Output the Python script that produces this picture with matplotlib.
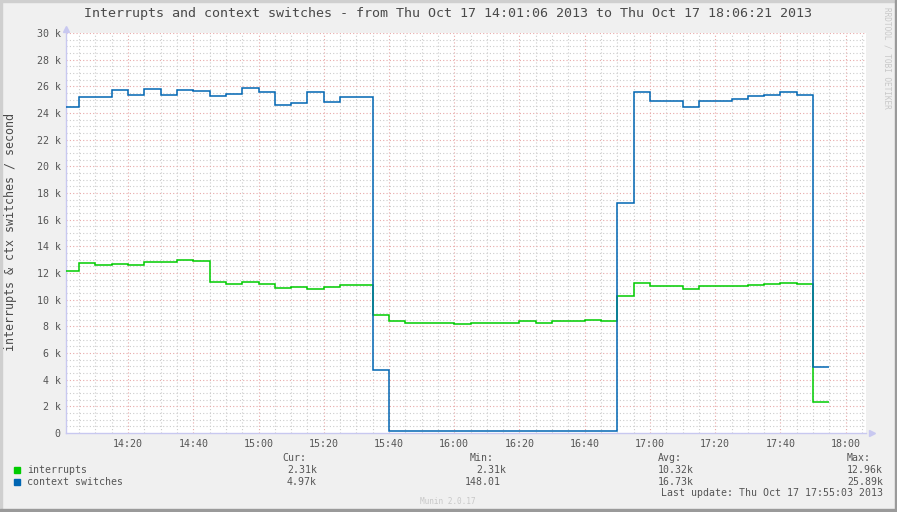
import numpy as np
import matplotlib
matplotlib.use("Agg")
import matplotlib.pyplot as plt
from matplotlib.patches import Rectangle

# minutes after 14:00; first sample starts 14:01:06, then 5-minute steps up to 17:55
start_min = 1.1
end_min = 246.35  # 18:06:21
edges = np.concatenate([[start_min], np.arange(5, 240, 5)])

interrupts = [12.13,
              12.73, 12.58, 12.65, 12.58, 12.80, 12.80, 12.96, 12.88, 11.30,
              11.15, 11.30, 11.15, 10.85, 10.93, 10.78, 10.93, 11.08, 11.08,
              8.83,
              8.38, 8.27, 8.27, 8.27, 8.15, 8.27, 8.27, 8.27, 8.38, 8.27,
              8.38, 8.38, 8.45, 8.38,
              10.25,
              11.23, 11.03, 11.03, 10.78, 11.03, 11.03, 11.03, 11.10, 11.18,
              11.23, 11.18,
              2.31]

ctx_switches = [24.43,
                25.18, 25.18, 25.70, 25.33, 25.80, 25.33, 25.70, 25.63, 25.25,
                25.40, 25.89, 25.55, 24.58, 24.73, 25.55, 24.80, 25.18, 25.18,
                4.73,
                0.148, 0.148, 0.148, 0.148, 0.148, 0.148, 0.148, 0.148, 0.148,
                0.148, 0.148, 0.148, 0.148, 0.148,
                17.23,
                25.55, 24.92, 24.88, 24.43, 24.88, 24.92, 25.03, 25.25, 25.33,
                25.55, 25.35,
                4.97]

tick_min = np.arange(20, 241, 20)
tick_labels = ["14:20", "14:40", "15:00", "15:20", "15:40", "16:00",
               "16:20", "16:40", "17:00", "17:20", "17:40", "18:00"]
y_ticks = np.arange(0, 31, 2)
y_labels = ["0"] + ["%d k" % v for v in y_ticks[1:]]

legend_names = ["interrupts", "context switches"]
cur = ["2.31k", "4.97k"]
mins = ["2.31k", "148.01"]
avgs = ["10.32k", "16.73k"]
maxs = ["12.96k", "25.89k"]

green = "#00CC00"
blue = "#0066B3"
txt = "#555555"
mono = "DejaVu Sans Mono"

W, H = 897, 512


def fx(x):
    return x / W


def fy(y):
    return 1 - y / H


fig = plt.figure(figsize=(W / 100, H / 100), dpi=100)
fig.patch.set_facecolor("#f0f0f0")

left, right, top, bottom = 66.4, 866.4, 33, 433
ax = fig.add_axes([fx(left), fy(bottom), (right - left) / W, (bottom - top) / H])
ax.set_facecolor("white")
ax.set_xlim(start_min, end_min)
ax.set_ylim(0, 30)

# grid: minor grey, major light red
for m in np.arange(5, 246, 5):
    col = "#e8a8a8" if m % 20 == 0 else "#cccccc"
    ax.axvline(m, color=col, lw=0.8, ls=(0, (1, 2)), zorder=1)
for v in np.arange(0.5, 30.1, 0.5):
    col = "#e8a8a8" if v % 2 == 0 else "#cccccc"
    ax.axhline(v, color=col, lw=0.8, ls=(0, (1, 2)), zorder=1)

ax.stairs(interrupts, edges, color=green, lw=1.1, baseline=None, zorder=3)
ax.stairs(ctx_switches, edges, color=blue, lw=1.1, baseline=None, zorder=4)

ax.set_xticks(tick_min)
ax.set_xticklabels(tick_labels, family=mono, fontsize=7.2, color=txt)
ax.set_yticks(y_ticks)
ax.set_yticklabels(y_labels, family=mono, fontsize=7.2, color=txt)
ax.tick_params(length=0, pad=4)

for s in ["top", "right"]:
    ax.spines[s].set_visible(False)
for s in ["left", "bottom"]:
    ax.spines[s].set_color("#c8c8f0")
    ax.spines[s].set_linewidth(1.0)

# axis arrows
ax.plot([start_min], [30.3], marker="^", ms=4, color="#c8c8f0",
        clip_on=False, zorder=5)
ax.plot([end_min + 1.6], [0], marker=">", ms=4, color="#c8c8f0",
        clip_on=False, zorder=5)

fig.text(fx(448), fy(14), "Interrupts and context switches - from Thu Oct 17 "
         "14:01:06 2013 to Thu Oct 17 18:06:21 2013",
         ha="center", va="center", family=mono, fontsize=9.6, color="#4a4a4a")
fig.text(fx(11), fy(232), "interrupts & ctx switches / second", rotation=90,
         ha="center", va="center", family=mono, fontsize=8.4, color="#4a4a4a")

# legend
ls = 7.1
fig.text(fx(282), fy(458), "Cur:", family=mono, fontsize=ls, color=txt, va="center")
fig.text(fx(470), fy(458), "Min:", family=mono, fontsize=ls, color=txt, va="center")
fig.text(fx(658), fy(458), "Avg:", family=mono, fontsize=ls, color=txt, va="center")
fig.text(fx(847), fy(458), "Max:", family=mono, fontsize=ls, color=txt, va="center")
for i, (name, col) in enumerate(zip(legend_names, [green, blue])):
    yy = 470 + 12 * i
    fig.add_artist(Rectangle((fx(14), fy(yy + 3)), 6 / W, 6 / H,
                             transform=fig.transFigure, color=col))
    fig.text(fx(27), fy(yy), name, family=mono, fontsize=ls, color=txt, va="center")
    fig.text(fx(287), fy(yy), cur[i], family=mono, fontsize=ls, color=txt, va="center")
    fig.text(fx(476 if i == 0 else 465), fy(yy), mins[i], family=mono,
             fontsize=ls, color=txt, va="center")
    fig.text(fx(658), fy(yy), avgs[i], family=mono, fontsize=ls, color=txt, va="center")
    fig.text(fx(847), fy(yy), maxs[i], family=mono, fontsize=ls, color=txt, va="center")
fig.text(fx(883), fy(493), "Last update: Thu Oct 17 17:55:03 2013", ha="right",
         family=mono, fontsize=ls, color=txt, va="center")

fig.text(fx(448), fy(502), "Munin 2.0.17", ha="center", va="center",
         family=mono, fontsize=5.6, color="#c8c8c8")
fig.text(fx(887), fy(58), "RRDTOOL / TOBI OETIKER", rotation=270, ha="center",
         va="center", family=mono, fontsize=5.6, color="#c8c8c8")

# frame around the image
fig.add_artist(Rectangle((0, 0), 2 / W, 1, transform=fig.transFigure, color="#cfcfcf"))
fig.add_artist(Rectangle((0, 1 - 2 / H), 1, 2 / H, transform=fig.transFigure, color="#cfcfcf"))
fig.add_artist(Rectangle((1 - 2 / W, 0), 2 / W, 1, transform=fig.transFigure, color="#9a9a9a"))
fig.add_artist(Rectangle((0, 0), 1, 3 / H, transform=fig.transFigure, color="#9a9a9a"))

fig.savefig("out.png", dpi=100, facecolor=fig.get_facecolor())
